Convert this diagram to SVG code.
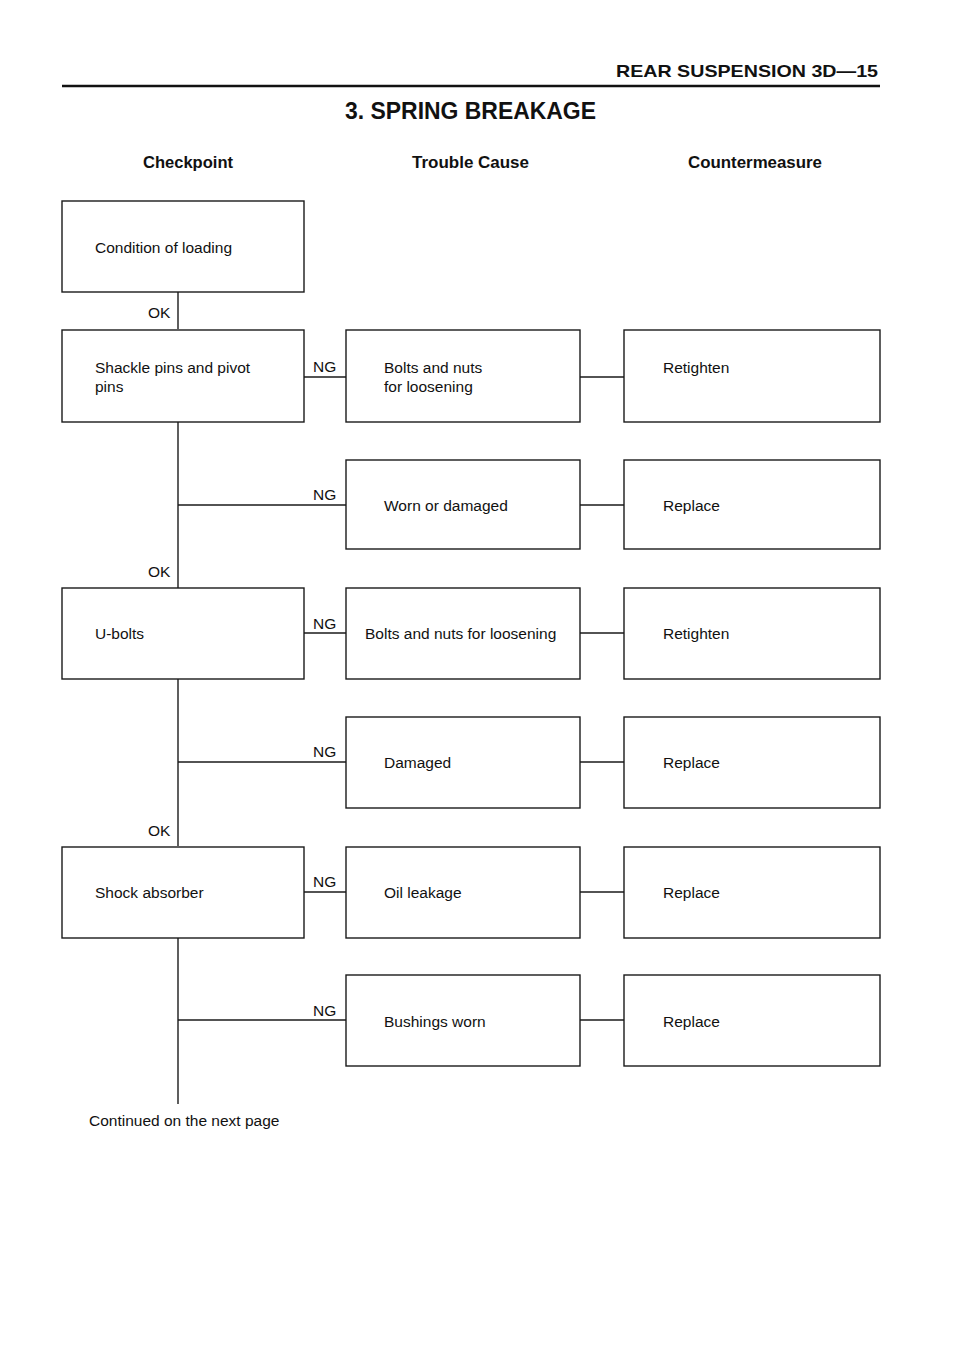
<svg xmlns="http://www.w3.org/2000/svg" width="960" height="1356" viewBox="0 0 960 1356">
<style>
.box{fill:#fff;stroke:#1a1a1a;stroke-width:1.4}
.ln{stroke:#1a1a1a;stroke-width:1.4;fill:none}
.t{font-family:"Liberation Sans",Arial,sans-serif;font-size:15.5px;fill:#111}
.h{font-family:"Liberation Sans",Arial,sans-serif;font-weight:bold;fill:#111}
</style>
<rect width="960" height="1356" fill="#fff"/>
<g id="header">
<text class="h" x="878" y="77" font-size="17" text-anchor="end" textLength="262" lengthAdjust="spacingAndGlyphs">REAR SUSPENSION  3D—15</text>
<line x1="62" y1="86" x2="880" y2="86" stroke="#111" stroke-width="2.5"/>
<text class="h" x="345" y="119" font-size="23" textLength="251" lengthAdjust="spacingAndGlyphs">3.  SPRING BREAKAGE</text>
<text class="h" x="143" y="168" font-size="17" textLength="90" lengthAdjust="spacingAndGlyphs">Checkpoint</text>
<text class="h" x="412" y="168" font-size="17" textLength="117" lengthAdjust="spacingAndGlyphs">Trouble Cause</text>
<text class="h" x="688" y="168" font-size="17" textLength="134" lengthAdjust="spacingAndGlyphs">Countermeasure</text>
</g>
<g id="connectors">
<line class="ln" x1="178" y1="292" x2="178" y2="329"/>
<line class="ln" x1="178" y1="422" x2="178" y2="588"/>
<line class="ln" x1="178" y1="679" x2="178" y2="846"/>
<line class="ln" x1="178" y1="938" x2="178" y2="1104"/>
<line class="ln" x1="304" y1="377" x2="346" y2="377"/>
<line class="ln" x1="178" y1="505" x2="346" y2="505"/>
<line class="ln" x1="304" y1="633" x2="346" y2="633"/>
<line class="ln" x1="178" y1="762" x2="346" y2="762"/>
<line class="ln" x1="304" y1="892" x2="346" y2="892"/>
<line class="ln" x1="178" y1="1020" x2="346" y2="1020"/>
<line class="ln" x1="580" y1="377" x2="624" y2="377"/>
<line class="ln" x1="580" y1="505" x2="624" y2="505"/>
<line class="ln" x1="580" y1="633" x2="624" y2="633"/>
<line class="ln" x1="580" y1="762" x2="624" y2="762"/>
<line class="ln" x1="580" y1="892" x2="624" y2="892"/>
<line class="ln" x1="580" y1="1020" x2="624" y2="1020"/>
<text class="t" x="148" y="318">OK</text>
<text class="t" x="148" y="577">OK</text>
<text class="t" x="148" y="836">OK</text>
<text class="t" x="313" y="372">NG</text>
<text class="t" x="313" y="500">NG</text>
<text class="t" x="313" y="629">NG</text>
<text class="t" x="313" y="757">NG</text>
<text class="t" x="313" y="887">NG</text>
<text class="t" x="313" y="1016">NG</text>
<text class="t" x="89" y="1126">Continued on the next page</text>
</g>
<g id="n-loading"><rect class="box" x="62" y="201" width="242" height="91"/><text class="t" x="95" y="253">Condition of loading</text></g>
<g id="n-shackle"><rect class="box" x="62" y="330" width="242" height="92"/><text class="t" x="95" y="373">Shackle pins and pivot</text><text class="t" x="95" y="392">pins</text></g>
<g id="n-ubolts"><rect class="box" x="62" y="588" width="242" height="91"/><text class="t" x="95" y="639">U-bolts</text></g>
<g id="n-shock"><rect class="box" x="62" y="847" width="242" height="91"/><text class="t" x="95" y="898">Shock absorber</text></g>
<g id="c-bolts1"><rect class="box" x="346" y="330" width="234" height="92"/><text class="t" x="384" y="373">Bolts and nuts</text><text class="t" x="384" y="392">for loosening</text></g>
<g id="c-worn"><rect class="box" x="346" y="460" width="234" height="89"/><text class="t" x="384" y="511">Worn or damaged</text></g>
<g id="c-bolts2"><rect class="box" x="346" y="588" width="234" height="91"/><text class="t" x="365" y="639">Bolts and nuts for loosening</text></g>
<g id="c-damaged"><rect class="box" x="346" y="717" width="234" height="91"/><text class="t" x="384" y="768">Damaged</text></g>
<g id="c-oil"><rect class="box" x="346" y="847" width="234" height="91"/><text class="t" x="384" y="898">Oil leakage</text></g>
<g id="c-bushings"><rect class="box" x="346" y="975" width="234" height="91"/><text class="t" x="384" y="1027">Bushings worn</text></g>
<g id="m-1"><rect class="box" x="624" y="330" width="256" height="92"/><text class="t" x="663" y="373">Retighten</text></g>
<g id="m-2"><rect class="box" x="624" y="460" width="256" height="89"/><text class="t" x="663" y="511">Replace</text></g>
<g id="m-3"><rect class="box" x="624" y="588" width="256" height="91"/><text class="t" x="663" y="639">Retighten</text></g>
<g id="m-4"><rect class="box" x="624" y="717" width="256" height="91"/><text class="t" x="663" y="768">Replace</text></g>
<g id="m-5"><rect class="box" x="624" y="847" width="256" height="91"/><text class="t" x="663" y="898">Replace</text></g>
<g id="m-6"><rect class="box" x="624" y="975" width="256" height="91"/><text class="t" x="663" y="1027">Replace</text></g>
</svg>
